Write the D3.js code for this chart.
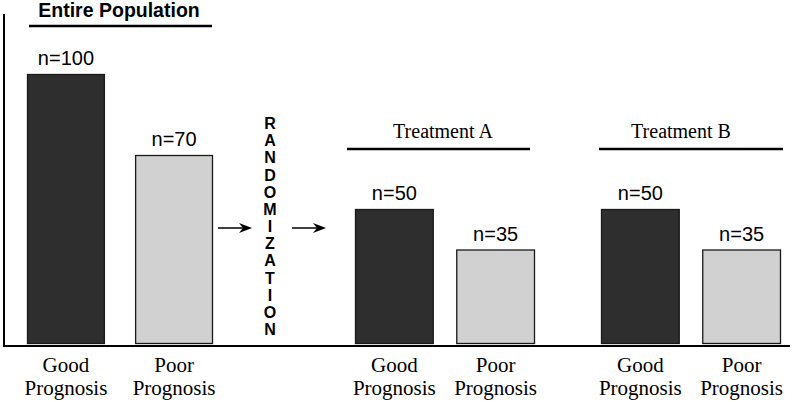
<!DOCTYPE html>
<html><head><meta charset="utf-8">
<script src="https://cdn.jsdelivr.net/npm/d3@7"></script>
<style>html,body{margin:0;padding:0;background:#fff;}</style>
</head><body>
<svg id="chart" width="792" height="402"></svg>
<script>
// ---- data ----
const groups = ["Entire Population", "Treatment A", "Treatment B"];
const categories = ["Good Prognosis", "Poor Prognosis"];
const entireValues = [100, 70];
const treatmentAValues = [50, 35];
const treatmentBValues = [50, 35];
const randomLabel = "RANDOMIZATION";

const seriesByGroup = {
  "Entire Population": entireValues,
  "Treatment A": treatmentAValues,
  "Treatment B": treatmentBValues
};
const data = [];
groups.forEach(g => categories.forEach((c, i) => data.push({group: g, cat: c, value: seriesByGroup[g][i]})));

// ---- layout ----
const svg = d3.select("#chart");
const baseY = 346;
const y = d3.scaleLinear().domain([0, 100]).range([344, 74]);
const groupStart = d3.scaleOrdinal().domain(groups).range([27, 355, 601]);
const groupSpan = d3.scaleOrdinal().domain(groups).range([186, 180, 180]);
const barW = 80;
function inner(g) {
  return d3.scaleBand().domain(categories).range([0, groupSpan(g)])
    .paddingInner((groupSpan(g) - 2 * barW) / (groupSpan(g) / 2)).paddingOuter(0);
}
function barX(d) { return groupStart(d.group) + inner(d.group)(d.cat); }
function barWidth(d) { return inner(d.group).bandwidth(); }

const sans = "'Liberation Sans', Arial, sans-serif";
const serif = "'Liberation Serif', 'Times New Roman', serif";

// axes lines
svg.append("line").attr("x1", 4).attr("x2", 4).attr("y1", 14).attr("y2", baseY + 1)
  .attr("stroke", "#000").attr("stroke-width", 2);
svg.append("line").attr("x1", 3).attr("x2", 790).attr("y1", baseY).attr("y2", baseY)
  .attr("stroke", "#000").attr("stroke-width", 2);

// bars
svg.selectAll("rect.bar").data(data).enter().append("rect")
  .attr("class", "bar")
  .attr("x", d => barX(d) + 0.5)
  .attr("y", d => y(d.value) + 0.5)
  .attr("width", d => barWidth(d) - 1)
  .attr("height", d => y(0) - y(d.value) - 1)
  .attr("fill", d => d.cat === categories[0] ? "#2e2e2e" : "#d1d1d1")
  .attr("stroke", "#1a1a1a").attr("stroke-width", 1.3);

// value labels
svg.selectAll("text.val").data(data).enter().append("text")
  .attr("x", d => barX(d) + barWidth(d) / 2)
  .attr("y", d => y(d.value) - 9)
  .attr("text-anchor", "middle")
  .style("font-family", sans).style("font-size", "20px").attr("fill", "#000")
  .text(d => "n=" + d.value);

// category labels (two lines)
data.forEach(d => {
  const parts = d.cat.split(" ");
  const cx = barX(d) + barWidth(d) / 2;
  [372, 395].forEach((yy, i) => {
    svg.append("text")
      .attr("x", cx).attr("y", yy)
      .attr("text-anchor", "middle")
      .style("font-family", serif).style("font-size", "21px").attr("fill", "#000")
      .text(parts[i]);
  });
});

// group titles
const titleCfg = {
  "Entire Population": {cx: 119, ty: 17, ly: 26, x1: 29, x2: 212, font: sans, weight: "bold", size: 19.5},
  "Treatment A": {cx: 443, ty: 138, ly: 149, x1: 347, x2: 530, font: serif, weight: "normal", size: 20},
  "Treatment B": {cx: 681, ty: 138, ly: 149, x1: 599, x2: 783, font: serif, weight: "normal", size: 20}
};
groups.forEach(g => {
  const c = titleCfg[g];
  svg.append("text").attr("x", c.cx).attr("y", c.ty).attr("text-anchor", "middle")
    .style("font-family", c.font).style("font-weight", c.weight).style("font-size", c.size + "px")
    .attr("fill", "#000").text(g);
  svg.append("line").attr("x1", c.x1).attr("x2", c.x2).attr("y1", c.ly).attr("y2", c.ly)
    .attr("stroke", "#000").attr("stroke-width", 2.5);
});

// RANDOMIZATION vertical letters
const letters = randomLabel.split("");
const ly = d3.scalePoint().domain(d3.range(letters.length)).range([129, 335]);
svg.selectAll("text.rl").data(letters).enter().append("text")
  .attr("x", 270).attr("y", (d, i) => ly(i))
  .attr("text-anchor", "middle")
  .style("font-family", sans).style("font-weight", "bold").style("font-size", "16px")
  .attr("fill", "#000").text(d => d);

// arrows
function arrow(x1, x2, yy) {
  svg.append("line").attr("x1", x1).attr("x2", x2 - 4).attr("y1", yy).attr("y2", yy)
    .attr("stroke", "#000").attr("stroke-width", 1.5);
  svg.append("path")
    .attr("d", `M${x2},${yy} L${x2 - 13},${yy - 5} L${x2 - 9},${yy} L${x2 - 13},${yy + 5} Z`)
    .attr("fill", "#000");
}
arrow(218, 252, 228);
arrow(292, 326, 228);
</script>
</body></html>
